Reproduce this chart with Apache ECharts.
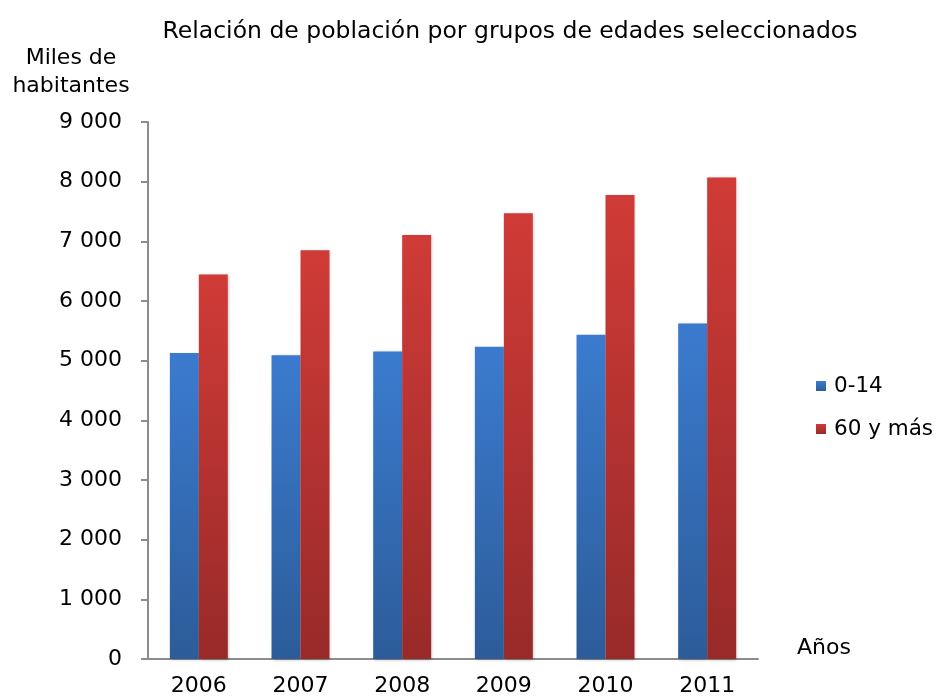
<!DOCTYPE html>
<html>
<head>
<meta charset="utf-8">
<script src="https://cdn.jsdelivr.net/npm/echarts@6/dist/echarts.min.js"></script>
<style>
  html, body { margin: 0; padding: 0; background: #fff; }
  #chart { width: 942px; height: 700px; }
</style>
</head>
<body>
<div id="chart"></div>
<script>
// datos (miles de habitantes)
const years = ['2006', '2007', '2008', '2009', '2010', '2011'];
const ninos = [5130, 5090, 5155, 5235, 5435, 5625];   // 0-14
const mayores = [6445, 6850, 7105, 7470, 7775, 8070]; // 60 y más
const seriesNames = ['0-14', '60 y más'];

const font = 'DejaVu Sans, Liberation Sans, Arial, sans-serif';

function grad(top, bottom) {
  return new echarts.graphic.LinearGradient(0, 0, 0, 1, [
    { offset: 0, color: top },
    { offset: 1, color: bottom }
  ]);
}

const myChart = echarts.init(document.getElementById('chart'));
myChart.setOption({
  animation: false,
  textStyle: { fontFamily: font },
  title: {
    text: 'Relación de población por grupos de edades seleccionados',
    left: 505,
    top: 15,
    textAlign: 'center',
    textStyle: { fontSize: 23.5, fontWeight: 'normal', color: '#000', fontFamily: font }
  },
  legend: {
    orient: 'vertical',
    left: 811,
    top: 370,
    itemWidth: 10,
    itemHeight: 10,
    itemGap: 21,
    icon: 'rect',
    textStyle: { fontSize: 21.5, color: '#000', fontFamily: font, padding: [0, 0, 0, 3] },
    data: seriesNames
  },
  grid: { left: 148, right: 184, top: 122, bottom: 41 },
  xAxis: {
    type: 'category',
    data: years,
    name: 'Años',
    nameLocation: 'end',
    nameGap: 39,
    nameTextStyle: { fontSize: 22, color: '#000', align: 'left', verticalAlign: 'bottom' },
    axisLine: { lineStyle: { color: '#8c8c8c', width: 2 } },
    axisTick: { show: false },
    axisLabel: { fontSize: 22, color: '#000', margin: 16 }
  },
  yAxis: {
    type: 'value',
    min: 0,
    max: 9000,
    interval: 1000,
    name: 'Miles de\nhabitantes',
    nameLocation: 'end',
    nameGap: 22,
    nameTextStyle: { fontSize: 22, color: '#000', align: 'center', lineHeight: 28, padding: [0, 154, 0, 0] },
    axisLine: { show: true, lineStyle: { color: '#8c8c8c', width: 2 } },
    axisTick: { show: true, length: 7, lineStyle: { color: '#8c8c8c', width: 2 } },
    splitLine: { show: false },
    axisLabel: {
      fontSize: 22,
      color: '#000',
      margin: 26,
      formatter: v => String(v).replace(/\B(?=(\d{3})+(?!\d))/g, ' ')
    }
  },
  series: [
    {
      name: seriesNames[0],
      type: 'bar',
      data: ninos,
      barGap: '0%',
      barCategoryGap: '43%',
      itemStyle: { color: grad('#3b7bcf', '#2c5c99'), shadowBlur: 3, shadowColor: 'rgba(0,0,0,0.25)', shadowOffsetX: 1, shadowOffsetY: 1 }
    },
    {
      name: seriesNames[1],
      type: 'bar',
      data: mayores,
      itemStyle: { color: grad('#d03b37', '#982a29'), shadowBlur: 3, shadowColor: 'rgba(0,0,0,0.25)', shadowOffsetX: 1, shadowOffsetY: 1 }
    }
  ]
});
</script>
</body>
</html>
